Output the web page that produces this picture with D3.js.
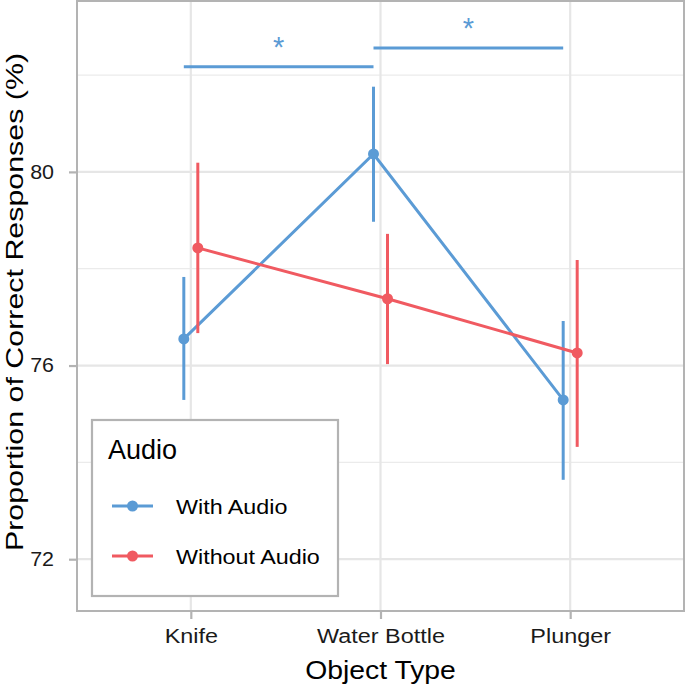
<!DOCTYPE html>
<html><head><meta charset="utf-8">
<script src="https://cdn.jsdelivr.net/npm/d3@7"></script>
<style>body{margin:0;background:#fff}svg text{font-family:"Liberation Sans",Arial,sans-serif}</style>
</head><body><svg id="c" width="685" height="685"></svg>
<script>
const categories = ["Knife", "Water Bottle", "Plunger"];
const seriesNames = ["With Audio", "Without Audio"];
const withAudio = [76.55, 80.37, 75.29];
const withAudioLo = [75.29, 78.97, 73.64];
const withAudioHi = [77.83, 81.76, 76.92];
const withoutAudio = [78.43, 77.38, 76.26];
const withoutAudioLo = [76.67, 76.03, 74.32];
const withoutAudioHi = [80.19, 78.72, 78.18];
const yTicks = [72, 76, 80];
const yMinor = [74, 78, 82];
const sigBars = [{from: 0, to: 1, y: 82.17, label: "*"}, {from: 1, to: 2, y: 82.56, label: "*"}];
const colors = ["#5B9BD5", "#F05A61"];

const svg = d3.select("#c");
const L = 77, R = 684, T = 1, B = 611;
const x = d3.scalePoint().domain(categories).range([L, R]).padding(0.6);
const y = d3.scaleLinear().domain([70.93, 83.53]).range([B, T]);
const dodge = [-7, 7];

function stretch(sel, f) {
  sel.each(function() {
    const w = this.getComputedTextLength();
    d3.select(this).attr("textLength", w * f).attr("lengthAdjust", "spacingAndGlyphs");
  });
}

// gridlines
const g = svg.append("g");
g.selectAll(".ymin").data(yMinor).join("line").attr("x1", L).attr("x2", R)
  .attr("y1", d => y(d)).attr("y2", d => y(d)).attr("stroke", "#ebebeb").attr("stroke-width", 1.2);
g.selectAll(".ymaj").data(yTicks).join("line").attr("x1", L).attr("x2", R)
  .attr("y1", d => y(d)).attr("y2", d => y(d)).attr("stroke", "#e6e6e6").attr("stroke-width", 2.2);
g.selectAll(".xmaj").data(categories).join("line").attr("y1", T).attr("y2", B)
  .attr("x1", d => x(d)).attr("x2", d => x(d)).attr("stroke", "#e6e6e6").attr("stroke-width", 2.2);

// axes
const yAxis = svg.append("g").attr("transform", `translate(${L},0)`)
  .call(d3.axisLeft(y).tickValues(yTicks).tickSize(8).tickPadding(15));
const xAxis = svg.append("g").attr("transform", `translate(0,${B})`)
  .call(d3.axisBottom(x).tickSize(8).tickPadding(14));
[yAxis, xAxis].forEach(a => {
  a.select(".domain").remove();
  a.selectAll(".tick line").attr("stroke", "#b3b3b3").attr("stroke-width", 2.2);
  a.selectAll(".tick text").attr("fill", "#1a1a1a").style("font-size", "19.5px")
    .style("font-family", '"Liberation Sans",Arial,sans-serif');
});
xAxis.selectAll(".tick text").attr("y", 32).attr("dy", 0);
stretch(xAxis.selectAll(".tick text"), 1.2);
stretch(yAxis.selectAll(".tick text"), 1.1);

// panel border
svg.append("rect").attr("x", L).attr("y", T).attr("width", R - L).attr("height", B - T)
  .attr("fill", "none").attr("stroke", "#b3b3b3").attr("stroke-width", 2);

const series = [
  {name: seriesNames[0], v: withAudio, lo: withAudioLo, hi: withAudioHi},
  {name: seriesNames[1], v: withoutAudio, lo: withoutAudioLo, hi: withoutAudioHi}
];
const line = d3.line();
series.forEach((s, si) => {
  const c = colors[si];
  const px = i => x(categories[i]) + dodge[si];
  svg.append("path").attr("d", line(s.v.map((v, i) => [px(i), y(v)])))
    .attr("fill", "none").attr("stroke", c).attr("stroke-width", 3);
  svg.selectAll(null).data(s.v).join("line")
    .attr("x1", (d, i) => px(i)).attr("x2", (d, i) => px(i))
    .attr("y1", (d, i) => y(s.lo[i])).attr("y2", (d, i) => y(s.hi[i]))
    .attr("stroke", c).attr("stroke-width", 3);
  svg.selectAll(null).data(s.v).join("circle")
    .attr("cx", (d, i) => px(i)).attr("cy", d => y(d)).attr("r", 5.5).attr("fill", c);
});

// significance bars
sigBars.forEach(b => {
  const x1 = x(categories[b.from]) + dodge[0], x2 = x(categories[b.to]) + dodge[0];
  svg.append("line").attr("x1", x1).attr("x2", x2).attr("y1", y(b.y)).attr("y2", y(b.y))
    .attr("stroke", colors[0]).attr("stroke-width", 3);
  svg.append("text").attr("x", (x1 + x2) / 2).attr("y", y(b.y) - 10).attr("text-anchor", "middle")
    .attr("fill", colors[0]).style("font-size", "29px").text(b.label);
});

// axis titles
const xt = svg.append("text").attr("x", (L + R) / 2).attr("y", 679).attr("text-anchor", "middle")
  .attr("fill", "#000").style("font-size", "26px").text("Object Type");
stretch(xt, 1.09);
const yt = svg.append("text").attr("transform", `translate(23,${(T + B) / 2 - 4}) rotate(-90)`)
  .attr("text-anchor", "middle").attr("fill", "#000").style("font-size", "24.5px")
  .text("Proportion of Correct Responses (%)");
stretch(yt, 1.24);

// legend
const lg = svg.append("g");
lg.append("rect").attr("x", 92).attr("y", 420).attr("width", 246).attr("height", 176)
  .attr("fill", "#fff").attr("stroke", "#b3b3b3").attr("stroke-width", 2.2);
lg.append("text").attr("x", 108).attr("y", 459).attr("fill", "#000").style("font-size", "27px").text("Audio");
seriesNames.forEach((n, i) => {
  const yy = 506 + i * 50;
  lg.append("line").attr("x1", 112).attr("x2", 153).attr("y1", yy).attr("y2", yy)
    .attr("stroke", colors[i]).attr("stroke-width", 3);
  lg.append("circle").attr("cx", 132.5).attr("cy", yy).attr("r", 5.5).attr("fill", colors[i]);
  const t = lg.append("text").attr("x", 176).attr("y", yy + 7.5).attr("fill", "#000").style("font-size", "21px").text(n);
  stretch(t, 1.11);
});
</script></body></html>
